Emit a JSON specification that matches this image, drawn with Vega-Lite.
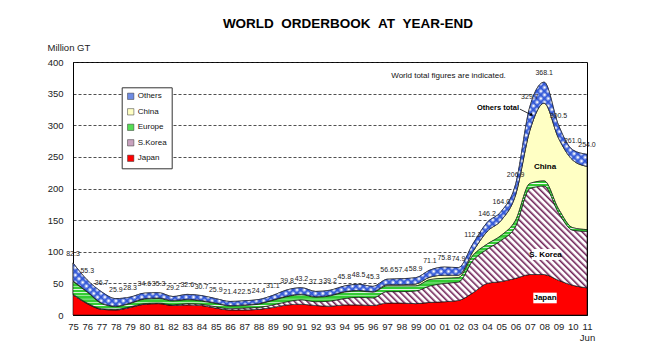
{
  "$schema": "https://vega.github.io/schema/vega-lite/v6.json",
  "width": 514,
  "height": 253,
  "autosize": {"type": "none"},
  "padding": {"left": 73, "top": 62, "right": 64, "bottom": 36},
  "background": "white",
  "title": {"text": "WORLD \u00a0ORDERBOOK \u00a0AT \u00a0YEAR-END", "font": "Liberation Sans", "fontSize": 13.5, "fontWeight": "bold", "color": "#000", "anchor": "middle", "dx": 18, "offset": 12},
  "config": {
    "font": "Liberation Sans",
    "view": {"stroke": "#000", "strokeWidth": 1},
    "axis": {"labelFont": "Liberation Sans", "labelColor": "#222", "domainColor": "#000", "tickColor": "#000"}
  },
  "datasets": {
    "regions": [
      {"region": "Japan", "ord": 1},
      {"region": "S.Korea", "ord": 2},
      {"region": "Europe", "ord": 3},
      {"region": "China", "ord": 4},
      {"region": "Others", "ord": 5}
    ],
    "orderbook": [
      {"year":1975,"region":"Japan","v":32},{"year":1975,"region":"S.Korea","v":1},{"year":1975,"region":"Europe","v":20},{"year":1975,"region":"China","v":1},{"year":1975,"region":"Others","v":28.3},
      {"year":1976,"region":"Japan","v":18},{"year":1976,"region":"S.Korea","v":1},{"year":1976,"region":"Europe","v":17},{"year":1976,"region":"China","v":1},{"year":1976,"region":"Others","v":18.3},
      {"year":1977,"region":"Japan","v":9},{"year":1977,"region":"S.Korea","v":1},{"year":1977,"region":"Europe","v":8},{"year":1977,"region":"China","v":1},{"year":1977,"region":"Others","v":17.7},
      {"year":1978,"region":"Japan","v":8},{"year":1978,"region":"S.Korea","v":1},{"year":1978,"region":"Europe","v":4},{"year":1978,"region":"China","v":1},{"year":1978,"region":"Others","v":11.9},
      {"year":1979,"region":"Japan","v":12},{"year":1979,"region":"S.Korea","v":1},{"year":1979,"region":"Europe","v":5},{"year":1979,"region":"China","v":1},{"year":1979,"region":"Others","v":9.3},
      {"year":1980,"region":"Japan","v":17},{"year":1980,"region":"S.Korea","v":1},{"year":1980,"region":"Europe","v":7},{"year":1980,"region":"China","v":1},{"year":1980,"region":"Others","v":8.6},
      {"year":1981,"region":"Japan","v":18},{"year":1981,"region":"S.Korea","v":1},{"year":1981,"region":"Europe","v":7},{"year":1981,"region":"China","v":1},{"year":1981,"region":"Others","v":8.3},
      {"year":1982,"region":"Japan","v":15},{"year":1982,"region":"S.Korea","v":1},{"year":1982,"region":"Europe","v":6},{"year":1982,"region":"China","v":1},{"year":1982,"region":"Others","v":6.2},
      {"year":1983,"region":"Japan","v":16},{"year":1983,"region":"S.Korea","v":2},{"year":1983,"region":"Europe","v":6},{"year":1983,"region":"China","v":1},{"year":1983,"region":"Others","v":7.6},
      {"year":1984,"region":"Japan","v":15},{"year":1984,"region":"S.Korea","v":2},{"year":1984,"region":"Europe","v":5},{"year":1984,"region":"China","v":1},{"year":1984,"region":"Others","v":7.7},
      {"year":1985,"region":"Japan","v":11},{"year":1985,"region":"S.Korea","v":2},{"year":1985,"region":"Europe","v":5},{"year":1985,"region":"China","v":1},{"year":1985,"region":"Others","v":6.9},
      {"year":1986,"region":"Japan","v":8},{"year":1986,"region":"S.Korea","v":2},{"year":1986,"region":"Europe","v":4},{"year":1986,"region":"China","v":1},{"year":1986,"region":"Others","v":6.4},
      {"year":1987,"region":"Japan","v":8},{"year":1987,"region":"S.Korea","v":3},{"year":1987,"region":"Europe","v":4},{"year":1987,"region":"China","v":1},{"year":1987,"region":"Others","v":6.5},
      {"year":1988,"region":"Japan","v":9},{"year":1988,"region":"S.Korea","v":3},{"year":1988,"region":"Europe","v":5},{"year":1988,"region":"China","v":1},{"year":1988,"region":"Others","v":6.4},
      {"year":1989,"region":"Japan","v":12},{"year":1989,"region":"S.Korea","v":4},{"year":1989,"region":"Europe","v":7},{"year":1989,"region":"China","v":1},{"year":1989,"region":"Others","v":7.1},
      {"year":1990,"region":"Japan","v":16},{"year":1990,"region":"S.Korea","v":5},{"year":1990,"region":"Europe","v":8},{"year":1990,"region":"China","v":1},{"year":1990,"region":"Others","v":9.8},
      {"year":1991,"region":"Japan","v":17},{"year":1991,"region":"S.Korea","v":7},{"year":1991,"region":"Europe","v":8},{"year":1991,"region":"China","v":1},{"year":1991,"region":"Others","v":10.2},
      {"year":1992,"region":"Japan","v":15},{"year":1992,"region":"S.Korea","v":6},{"year":1992,"region":"Europe","v":7},{"year":1992,"region":"China","v":1},{"year":1992,"region":"Others","v":8.3},
      {"year":1993,"region":"Japan","v":14},{"year":1993,"region":"S.Korea","v":8},{"year":1993,"region":"Europe","v":8},{"year":1993,"region":"China","v":1},{"year":1993,"region":"Others","v":8.2},
      {"year":1994,"region":"Japan","v":16},{"year":1994,"region":"S.Korea","v":10},{"year":1994,"region":"Europe","v":10},{"year":1994,"region":"China","v":1},{"year":1994,"region":"Others","v":8.8},
      {"year":1995,"region":"Japan","v":16},{"year":1995,"region":"S.Korea","v":12},{"year":1995,"region":"Europe","v":10},{"year":1995,"region":"China","v":1},{"year":1995,"region":"Others","v":9.5},
      {"year":1996,"region":"Japan","v":15},{"year":1996,"region":"S.Korea","v":12},{"year":1996,"region":"Europe","v":9},{"year":1996,"region":"China","v":1},{"year":1996,"region":"Others","v":8.3},
      {"year":1997,"region":"Japan","v":19},{"year":1997,"region":"S.Korea","v":18},{"year":1997,"region":"Europe","v":9},{"year":1997,"region":"China","v":2},{"year":1997,"region":"Others","v":8.6},
      {"year":1998,"region":"Japan","v":19},{"year":1998,"region":"S.Korea","v":18},{"year":1998,"region":"Europe","v":9},{"year":1998,"region":"China","v":2},{"year":1998,"region":"Others","v":9.4},
      {"year":1999,"region":"Japan","v":18},{"year":1999,"region":"S.Korea","v":20},{"year":1999,"region":"Europe","v":8},{"year":1999,"region":"China","v":3},{"year":1999,"region":"Others","v":9.9},
      {"year":2000,"region":"Japan","v":20},{"year":2000,"region":"S.Korea","v":26},{"year":2000,"region":"Europe","v":10},{"year":2000,"region":"China","v":4},{"year":2000,"region":"Others","v":11.1},
      {"year":2001,"region":"Japan","v":21},{"year":2001,"region":"S.Korea","v":29},{"year":2001,"region":"Europe","v":8},{"year":2001,"region":"China","v":5},{"year":2001,"region":"Others","v":12.8},
      {"year":2002,"region":"Japan","v":23},{"year":2002,"region":"S.Korea","v":29},{"year":2002,"region":"Europe","v":7},{"year":2002,"region":"China","v":4},{"year":2002,"region":"Others","v":11.9},
      {"year":2003,"region":"Japan","v":35},{"year":2003,"region":"S.Korea","v":51},{"year":2003,"region":"Europe","v":8},{"year":2003,"region":"China","v":6},{"year":2003,"region":"Others","v":12.2},
      {"year":2004,"region":"Japan","v":50},{"year":2004,"region":"S.Korea","v":54},{"year":2004,"region":"Europe","v":8},{"year":2004,"region":"China","v":20},{"year":2004,"region":"Others","v":14.2},
      {"year":2005,"region":"Japan","v":53},{"year":2005,"region":"S.Korea","v":65},{"year":2005,"region":"Europe","v":8},{"year":2005,"region":"China","v":24},{"year":2005,"region":"Others","v":14},
      {"year":2006,"region":"Japan","v":58},{"year":2006,"region":"S.Korea","v":82},{"year":2006,"region":"Europe","v":10},{"year":2006,"region":"China","v":40},{"year":2006,"region":"Others","v":16.9},
      {"year":2007,"region":"Japan","v":64},{"year":2007,"region":"S.Korea","v":136},{"year":2007,"region":"Europe","v":8},{"year":2007,"region":"China","v":84},{"year":2007,"region":"Others","v":37.7},
      {"year":2008,"region":"Japan","v":64},{"year":2008,"region":"S.Korea","v":140},{"year":2008,"region":"Europe","v":8},{"year":2008,"region":"China","v":123},{"year":2008,"region":"Others","v":33.1},
      {"year":2009,"region":"Japan","v":55},{"year":2009,"region":"S.Korea","v":107},{"year":2009,"region":"Europe","v":6},{"year":2009,"region":"China","v":112},{"year":2009,"region":"Others","v":20.5},
      {"year":2010,"region":"Japan","v":47},{"year":2010,"region":"S.Korea","v":87},{"year":2010,"region":"Europe","v":4},{"year":2010,"region":"China","v":107},{"year":2010,"region":"Others","v":16},
      {"year":2011,"region":"Japan","v":43},{"year":2011,"region":"S.Korea","v":89},{"year":2011,"region":"Europe","v":3},{"year":2011,"region":"China","v":100},{"year":2011,"region":"Others","v":19}
    ],
    "totals": [
      {"year":1975,"v":82.3},{"year":1976,"v":55.3},{"year":1977,"v":36.7},{"year":1978,"v":25.9},{"year":1979,"v":28.3},
      {"year":1980,"v":34.6},{"year":1981,"v":35.3},{"year":1982,"v":29.2},{"year":1983,"v":32.6},{"year":1984,"v":30.7},
      {"year":1985,"v":25.9},{"year":1986,"v":21.4},{"year":1987,"v":22.5},{"year":1988,"v":24.4},{"year":1989,"v":31.1},
      {"year":1990,"v":39.8},{"year":1991,"v":43.2},{"year":1992,"v":37.3},{"year":1993,"v":39.2},{"year":1994,"v":45.8},
      {"year":1995,"v":48.5},{"year":1996,"v":45.3},{"year":1997,"v":56.6},{"year":1998,"v":57.4},{"year":1999,"v":58.9},
      {"year":2000,"v":71.1},{"year":2001,"v":75.8},{"year":2002,"v":74.9},{"year":2003,"v":112.2},{"year":2004,"v":146.2},
      {"year":2005,"v":164.0},{"year":2006,"v":206.9},{"year":2007,"v":329.7},{"year":2008,"v":368.1},{"year":2009,"v":300.5},
      {"year":2010,"v":261.0},{"year":2011,"v":254.0}
    ]
  },
  "encoding": {
    "x": {"field": "year", "type": "quantitative", "scale": {"domain": [1975, 2011], "nice": false, "zero": false},
      "axis": {"values": [1975,1976,1977,1978,1979,1980,1981,1982,1983,1984,1985,1986,1987,1988,1989,1990,1991,1992,1993,1994,1995,1996,1997,1998,1999,2000,2001,2002,2003,2004,2005,2006,2007,2008,2009,2010,2011],
        "labelExpr": "datum.value == 2011 ? ['11', 'Jun'] : slice(toString(datum.value), 2)",
        "title": null, "grid": false, "ticks": false, "labelFontSize": 9.5, "labelPadding": 6, "labelFlush": false, "labelOverlap": false, "labelLineHeight": 11}},
    "y": {"field": "v", "type": "quantitative", "scale": {"domain": [0, 400], "nice": false},
      "axis": {"values": [0,50,100,150,200,250,300,350,400], "grid": true, "gridDash": [3, 2], "gridColor": "#222", "gridWidth": 0.8, "ticks": false, "labelPadding": 10, "labelFontSize": 9.5, "labelOverlap": false,
        "title": "Million GT", "titleAngle": 0, "titleX": -26, "titleY": -12, "titleAlign": "left", "titleBaseline": "alphabetic", "titleFontWeight": "normal", "titleFontSize": 9.5, "titleColor": "#222", "titleFont": "Liberation Sans"}}
  },
  "layer": [
    {
      "data": {"name": "orderbook"},
      "transform": [{"lookup": "region", "from": {"data": {"name": "regions"}, "key": "region", "fields": ["ord"]}}],
      "mark": {"type": "area", "interpolate": "monotone", "stroke": "#111", "strokeWidth": 0.6, "opacity": 1},
      "encoding": {
        "color": {"field": "region", "type": "nominal",
          "scale": {"domain": ["Others", "China", "Europe", "S.Korea", "Japan"], "range": ["#6F8CE3", "#FFFFC4", "#55DD55", "#C8A2BE", "#FF0000"]},
          "legend": {"orient": "none", "legendX": 48.7, "legendY": 25.3, "title": null, "fillColor": "#fff", "strokeColor": "#333", "padding": 5,
            "symbolType": "square", "symbolSize": 40, "symbolStrokeColor": "#333", "symbolStrokeWidth": 0.5, "labelFontSize": 8, "labelFont": "Liberation Sans", "labelColor": "#111", "rowPadding": 5.5, "labelOffset": 3}},
        "order": {"field": "ord", "type": "quantitative"}
      }
    },
    {
      "data": {"name": "orderbook"},
      "transform": [
        {"lookup": "region", "from": {"data": {"name": "regions"}, "key": "region", "fields": ["ord"]}},
        {"stack": "v", "groupby": ["year"], "sort": [{"field": "ord", "order": "ascending"}], "as": ["k0", "k1"]},
        {"filter": "datum.region === 'S.Korea'"}
      ],
      "mark": {"type": "area", "interpolate": "monotone", "stroke": "#111", "strokeWidth": 0.6,
        "fill": {"gradient": "linear", "x1": 0, "y1": 1, "x2": 1.173, "y2": 0.717, "stops": [
          {"offset":0,"color":"#6E1F55"},{"offset":0.0045,"color":"#fff"},{"offset":0.0075,"color":"#fff"},
          {"offset":0.01,"color":"#6E1F55"},{"offset":0.0145,"color":"#fff"},{"offset":0.0175,"color":"#fff"},
          {"offset":0.02,"color":"#6E1F55"},{"offset":0.0245,"color":"#fff"},{"offset":0.0275,"color":"#fff"},
          {"offset":0.03,"color":"#6E1F55"},{"offset":0.0345,"color":"#fff"},{"offset":0.0375,"color":"#fff"},
          {"offset":0.04,"color":"#6E1F55"},{"offset":0.0445,"color":"#fff"},{"offset":0.0475,"color":"#fff"},
          {"offset":0.05,"color":"#6E1F55"},{"offset":0.0545,"color":"#fff"},{"offset":0.0575,"color":"#fff"},
          {"offset":0.06,"color":"#6E1F55"},{"offset":0.0645,"color":"#fff"},{"offset":0.0675,"color":"#fff"},
          {"offset":0.07,"color":"#6E1F55"},{"offset":0.0745,"color":"#fff"},{"offset":0.0775,"color":"#fff"},
          {"offset":0.08,"color":"#6E1F55"},{"offset":0.0845,"color":"#fff"},{"offset":0.0875,"color":"#fff"},
          {"offset":0.09,"color":"#6E1F55"},{"offset":0.0945,"color":"#fff"},{"offset":0.0975,"color":"#fff"},
          {"offset":0.10,"color":"#6E1F55"},{"offset":0.1045,"color":"#fff"},{"offset":0.1075,"color":"#fff"},
          {"offset":0.11,"color":"#6E1F55"},{"offset":0.1145,"color":"#fff"},{"offset":0.1175,"color":"#fff"},
          {"offset":0.12,"color":"#6E1F55"},{"offset":0.1245,"color":"#fff"},{"offset":0.1275,"color":"#fff"},
          {"offset":0.13,"color":"#6E1F55"},{"offset":0.1345,"color":"#fff"},{"offset":0.1375,"color":"#fff"},
          {"offset":0.14,"color":"#6E1F55"},{"offset":0.1445,"color":"#fff"},{"offset":0.1475,"color":"#fff"},
          {"offset":0.15,"color":"#6E1F55"},{"offset":0.1545,"color":"#fff"},{"offset":0.1575,"color":"#fff"},
          {"offset":0.16,"color":"#6E1F55"},{"offset":0.1645,"color":"#fff"},{"offset":0.1675,"color":"#fff"},
          {"offset":0.17,"color":"#6E1F55"},{"offset":0.1745,"color":"#fff"},{"offset":0.1775,"color":"#fff"},
          {"offset":0.18,"color":"#6E1F55"},{"offset":0.1845,"color":"#fff"},{"offset":0.1875,"color":"#fff"},
          {"offset":0.19,"color":"#6E1F55"},{"offset":0.1945,"color":"#fff"},{"offset":0.1975,"color":"#fff"},
          {"offset":0.20,"color":"#6E1F55"},{"offset":0.2045,"color":"#fff"},{"offset":0.2075,"color":"#fff"},
          {"offset":0.21,"color":"#6E1F55"},{"offset":0.2145,"color":"#fff"},{"offset":0.2175,"color":"#fff"},
          {"offset":0.22,"color":"#6E1F55"},{"offset":0.2245,"color":"#fff"},{"offset":0.2275,"color":"#fff"},
          {"offset":0.23,"color":"#6E1F55"},{"offset":0.2345,"color":"#fff"},{"offset":0.2375,"color":"#fff"},
          {"offset":0.24,"color":"#6E1F55"},{"offset":0.2445,"color":"#fff"},{"offset":0.2475,"color":"#fff"},
          {"offset":0.25,"color":"#6E1F55"},{"offset":0.2545,"color":"#fff"},{"offset":0.2575,"color":"#fff"},
          {"offset":0.26,"color":"#6E1F55"},{"offset":0.2645,"color":"#fff"},{"offset":0.2675,"color":"#fff"},
          {"offset":0.27,"color":"#6E1F55"},{"offset":0.2745,"color":"#fff"},{"offset":0.2775,"color":"#fff"},
          {"offset":0.28,"color":"#6E1F55"},{"offset":0.2845,"color":"#fff"},{"offset":0.2875,"color":"#fff"},
          {"offset":0.29,"color":"#6E1F55"},{"offset":0.2945,"color":"#fff"},{"offset":0.2975,"color":"#fff"},
          {"offset":0.30,"color":"#6E1F55"},{"offset":0.3045,"color":"#fff"},{"offset":0.3075,"color":"#fff"},
          {"offset":0.31,"color":"#6E1F55"},{"offset":0.3145,"color":"#fff"},{"offset":0.3175,"color":"#fff"},
          {"offset":0.32,"color":"#6E1F55"},{"offset":0.3245,"color":"#fff"},{"offset":0.3275,"color":"#fff"},
          {"offset":0.33,"color":"#6E1F55"},{"offset":0.3345,"color":"#fff"},{"offset":0.3375,"color":"#fff"},
          {"offset":0.34,"color":"#6E1F55"},{"offset":0.3445,"color":"#fff"},{"offset":0.3475,"color":"#fff"},
          {"offset":0.35,"color":"#6E1F55"},{"offset":0.3545,"color":"#fff"},{"offset":0.3575,"color":"#fff"},
          {"offset":0.36,"color":"#6E1F55"},{"offset":0.3645,"color":"#fff"},{"offset":0.3675,"color":"#fff"},
          {"offset":0.37,"color":"#6E1F55"},{"offset":0.3745,"color":"#fff"},{"offset":0.3775,"color":"#fff"},
          {"offset":0.38,"color":"#6E1F55"},{"offset":0.3845,"color":"#fff"},{"offset":0.3875,"color":"#fff"},
          {"offset":0.39,"color":"#6E1F55"},{"offset":0.3945,"color":"#fff"},{"offset":0.3975,"color":"#fff"},
          {"offset":0.40,"color":"#6E1F55"},{"offset":0.4045,"color":"#fff"},{"offset":0.4075,"color":"#fff"},
          {"offset":0.41,"color":"#6E1F55"},{"offset":0.4145,"color":"#fff"},{"offset":0.4175,"color":"#fff"},
          {"offset":0.42,"color":"#6E1F55"},{"offset":0.4245,"color":"#fff"},{"offset":0.4275,"color":"#fff"},
          {"offset":0.43,"color":"#6E1F55"},{"offset":0.4345,"color":"#fff"},{"offset":0.4375,"color":"#fff"},
          {"offset":0.44,"color":"#6E1F55"},{"offset":0.4445,"color":"#fff"},{"offset":0.4475,"color":"#fff"},
          {"offset":0.45,"color":"#6E1F55"},{"offset":0.4545,"color":"#fff"},{"offset":0.4575,"color":"#fff"},
          {"offset":0.46,"color":"#6E1F55"},{"offset":0.4645,"color":"#fff"},{"offset":0.4675,"color":"#fff"},
          {"offset":0.47,"color":"#6E1F55"},{"offset":0.4745,"color":"#fff"},{"offset":0.4775,"color":"#fff"},
          {"offset":0.48,"color":"#6E1F55"},{"offset":0.4845,"color":"#fff"},{"offset":0.4875,"color":"#fff"},
          {"offset":0.49,"color":"#6E1F55"},{"offset":0.4945,"color":"#fff"},{"offset":0.4975,"color":"#fff"},
          {"offset":0.50,"color":"#6E1F55"},{"offset":0.5045,"color":"#fff"},{"offset":0.5075,"color":"#fff"},
          {"offset":0.51,"color":"#6E1F55"},{"offset":0.5145,"color":"#fff"},{"offset":0.5175,"color":"#fff"},
          {"offset":0.52,"color":"#6E1F55"},{"offset":0.5245,"color":"#fff"},{"offset":0.5275,"color":"#fff"},
          {"offset":0.53,"color":"#6E1F55"},{"offset":0.5345,"color":"#fff"},{"offset":0.5375,"color":"#fff"},
          {"offset":0.54,"color":"#6E1F55"},{"offset":0.5445,"color":"#fff"},{"offset":0.5475,"color":"#fff"},
          {"offset":0.55,"color":"#6E1F55"},{"offset":0.5545,"color":"#fff"},{"offset":0.5575,"color":"#fff"},
          {"offset":0.56,"color":"#6E1F55"},{"offset":0.5645,"color":"#fff"},{"offset":0.5675,"color":"#fff"},
          {"offset":0.57,"color":"#6E1F55"},{"offset":0.5745,"color":"#fff"},{"offset":0.5775,"color":"#fff"},
          {"offset":0.58,"color":"#6E1F55"},{"offset":0.5845,"color":"#fff"},{"offset":0.5875,"color":"#fff"},
          {"offset":0.59,"color":"#6E1F55"},{"offset":0.5945,"color":"#fff"},{"offset":0.5975,"color":"#fff"},
          {"offset":0.60,"color":"#6E1F55"},{"offset":0.6045,"color":"#fff"},{"offset":0.6075,"color":"#fff"},
          {"offset":0.61,"color":"#6E1F55"},{"offset":0.6145,"color":"#fff"},{"offset":0.6175,"color":"#fff"},
          {"offset":0.62,"color":"#6E1F55"},{"offset":0.6245,"color":"#fff"},{"offset":0.6275,"color":"#fff"},
          {"offset":0.63,"color":"#6E1F55"},{"offset":0.6345,"color":"#fff"},{"offset":0.6375,"color":"#fff"},
          {"offset":0.64,"color":"#6E1F55"},{"offset":0.6445,"color":"#fff"},{"offset":0.6475,"color":"#fff"},
          {"offset":0.65,"color":"#6E1F55"},{"offset":0.6545,"color":"#fff"},{"offset":0.6575,"color":"#fff"},
          {"offset":0.66,"color":"#6E1F55"},{"offset":0.6645,"color":"#fff"},{"offset":0.6675,"color":"#fff"},
          {"offset":0.67,"color":"#6E1F55"},{"offset":0.6745,"color":"#fff"},{"offset":0.6775,"color":"#fff"},
          {"offset":0.68,"color":"#6E1F55"},{"offset":0.6845,"color":"#fff"},{"offset":0.6875,"color":"#fff"},
          {"offset":0.69,"color":"#6E1F55"},{"offset":0.6945,"color":"#fff"},{"offset":0.6975,"color":"#fff"},
          {"offset":0.70,"color":"#6E1F55"},{"offset":0.7045,"color":"#fff"},{"offset":0.7075,"color":"#fff"},
          {"offset":0.71,"color":"#6E1F55"},{"offset":0.7145,"color":"#fff"},{"offset":0.7175,"color":"#fff"},
          {"offset":0.72,"color":"#6E1F55"},{"offset":0.7245,"color":"#fff"},{"offset":0.7275,"color":"#fff"},
          {"offset":0.73,"color":"#6E1F55"},{"offset":0.7345,"color":"#fff"},{"offset":0.7375,"color":"#fff"},
          {"offset":0.74,"color":"#6E1F55"},{"offset":0.7445,"color":"#fff"},{"offset":0.7475,"color":"#fff"},
          {"offset":0.75,"color":"#6E1F55"},{"offset":0.7545,"color":"#fff"},{"offset":0.7575,"color":"#fff"},
          {"offset":0.76,"color":"#6E1F55"},{"offset":0.7645,"color":"#fff"},{"offset":0.7675,"color":"#fff"},
          {"offset":0.77,"color":"#6E1F55"},{"offset":0.7745,"color":"#fff"},{"offset":0.7775,"color":"#fff"},
          {"offset":0.78,"color":"#6E1F55"},{"offset":0.7845,"color":"#fff"},{"offset":0.7875,"color":"#fff"},
          {"offset":0.79,"color":"#6E1F55"},{"offset":0.7945,"color":"#fff"},{"offset":0.7975,"color":"#fff"},
          {"offset":0.80,"color":"#6E1F55"},{"offset":0.8045,"color":"#fff"},{"offset":0.8075,"color":"#fff"},
          {"offset":0.81,"color":"#6E1F55"},{"offset":0.8145,"color":"#fff"},{"offset":0.8175,"color":"#fff"},
          {"offset":0.82,"color":"#6E1F55"},{"offset":0.8245,"color":"#fff"},{"offset":0.8275,"color":"#fff"},
          {"offset":0.83,"color":"#6E1F55"},{"offset":0.8345,"color":"#fff"},{"offset":0.8375,"color":"#fff"},
          {"offset":0.84,"color":"#6E1F55"},{"offset":0.8445,"color":"#fff"},{"offset":0.8475,"color":"#fff"},
          {"offset":0.85,"color":"#6E1F55"},{"offset":0.8545,"color":"#fff"},{"offset":0.8575,"color":"#fff"},
          {"offset":0.86,"color":"#6E1F55"},{"offset":0.8645,"color":"#fff"},{"offset":0.8675,"color":"#fff"},
          {"offset":0.87,"color":"#6E1F55"},{"offset":0.8745,"color":"#fff"},{"offset":0.8775,"color":"#fff"},
          {"offset":0.88,"color":"#6E1F55"},{"offset":0.8845,"color":"#fff"},{"offset":0.8875,"color":"#fff"},
          {"offset":0.89,"color":"#6E1F55"},{"offset":0.8945,"color":"#fff"},{"offset":0.8975,"color":"#fff"},
          {"offset":0.90,"color":"#6E1F55"},{"offset":0.9045,"color":"#fff"},{"offset":0.9075,"color":"#fff"},
          {"offset":0.91,"color":"#6E1F55"},{"offset":0.9145,"color":"#fff"},{"offset":0.9175,"color":"#fff"},
          {"offset":0.92,"color":"#6E1F55"},{"offset":0.9245,"color":"#fff"},{"offset":0.9275,"color":"#fff"},
          {"offset":0.93,"color":"#6E1F55"},{"offset":0.9345,"color":"#fff"},{"offset":0.9375,"color":"#fff"},
          {"offset":0.94,"color":"#6E1F55"},{"offset":0.9445,"color":"#fff"},{"offset":0.9475,"color":"#fff"},
          {"offset":0.95,"color":"#6E1F55"},{"offset":0.9545,"color":"#fff"},{"offset":0.9575,"color":"#fff"},
          {"offset":0.96,"color":"#6E1F55"},{"offset":0.9645,"color":"#fff"},{"offset":0.9675,"color":"#fff"},
          {"offset":0.97,"color":"#6E1F55"},{"offset":0.9745,"color":"#fff"},{"offset":0.9775,"color":"#fff"},
          {"offset":0.98,"color":"#6E1F55"},{"offset":0.9845,"color":"#fff"},{"offset":0.9875,"color":"#fff"},
          {"offset":0.99,"color":"#6E1F55"},{"offset":0.9945,"color":"#fff"},{"offset":0.9975,"color":"#fff"},
          {"offset":1,"color":"#6E1F55"}
        ]}},
      "encoding": {
        "y": {"field": "k1", "type": "quantitative", "scale": {"domain": [0, 400], "nice": false},
          "axis": {"values": [0,50,100,150,200,250,300,350,400], "grid": true, "gridDash": [3, 2], "gridColor": "#222", "gridWidth": 0.8, "ticks": false, "labelPadding": 10, "labelFontSize": 9.5, "labelOverlap": false,
            "title": "Million GT", "titleAngle": 0, "titleX": -26, "titleY": -12, "titleAlign": "left", "titleBaseline": "alphabetic", "titleFontWeight": "normal", "titleFontSize": 9.5, "titleColor": "#222", "titleFont": "Liberation Sans"}},
        "y2": {"field": "k0"}
      }
    },
    {
      "data": {"name": "orderbook"},
      "transform": [
        {"lookup": "region", "from": {"data": {"name": "regions"}, "key": "region", "fields": ["ord"]}},
        {"stack": "v", "groupby": ["year"], "sort": [{"field": "ord", "order": "ascending"}], "as": ["k0", "k1"]},
        {"filter": "datum.region === 'Europe'"}
      ],
      "mark": {"type": "area", "interpolate": "monotone", "stroke": "#111", "strokeWidth": 0.6,
        "fill": {"gradient": "linear", "x1": 0, "y1": 0, "x2": 0, "y2": 1, "stops": [
          {"offset":0,"color":"#33CC33"},{"offset":0.015,"color":"#33CC33"},{"offset":0.02,"color":"#fff"},
          {"offset":0.025,"color":"#33CC33"},{"offset":0.04,"color":"#33CC33"},{"offset":0.045,"color":"#fff"},
          {"offset":0.05,"color":"#33CC33"},{"offset":0.065,"color":"#33CC33"},{"offset":0.07,"color":"#fff"},
          {"offset":0.075,"color":"#33CC33"},{"offset":0.09,"color":"#33CC33"},{"offset":0.095,"color":"#fff"},
          {"offset":0.1,"color":"#33CC33"},{"offset":0.115,"color":"#33CC33"},{"offset":0.12,"color":"#fff"},
          {"offset":0.125,"color":"#33CC33"},{"offset":0.14,"color":"#33CC33"},{"offset":0.145,"color":"#fff"},
          {"offset":0.15,"color":"#33CC33"},{"offset":0.165,"color":"#33CC33"},{"offset":0.17,"color":"#fff"},
          {"offset":0.175,"color":"#33CC33"},{"offset":0.19,"color":"#33CC33"},{"offset":0.195,"color":"#fff"},
          {"offset":0.2,"color":"#33CC33"},{"offset":0.215,"color":"#33CC33"},{"offset":0.22,"color":"#fff"},
          {"offset":0.225,"color":"#33CC33"},{"offset":0.24,"color":"#33CC33"},{"offset":0.245,"color":"#fff"},
          {"offset":0.25,"color":"#33CC33"},{"offset":0.265,"color":"#33CC33"},{"offset":0.27,"color":"#fff"},
          {"offset":0.275,"color":"#33CC33"},{"offset":0.29,"color":"#33CC33"},{"offset":0.295,"color":"#fff"},
          {"offset":0.3,"color":"#33CC33"},{"offset":0.315,"color":"#33CC33"},{"offset":0.32,"color":"#fff"},
          {"offset":0.325,"color":"#33CC33"},{"offset":0.34,"color":"#33CC33"},{"offset":0.345,"color":"#fff"},
          {"offset":0.35,"color":"#33CC33"},{"offset":0.365,"color":"#33CC33"},{"offset":0.37,"color":"#fff"},
          {"offset":0.375,"color":"#33CC33"},{"offset":0.39,"color":"#33CC33"},{"offset":0.395,"color":"#fff"},
          {"offset":0.4,"color":"#33CC33"},{"offset":0.415,"color":"#33CC33"},{"offset":0.42,"color":"#fff"},
          {"offset":0.425,"color":"#33CC33"},{"offset":0.44,"color":"#33CC33"},{"offset":0.445,"color":"#fff"},
          {"offset":0.45,"color":"#33CC33"},{"offset":0.465,"color":"#33CC33"},{"offset":0.47,"color":"#fff"},
          {"offset":0.475,"color":"#33CC33"},{"offset":0.49,"color":"#33CC33"},{"offset":0.495,"color":"#fff"},
          {"offset":0.5,"color":"#33CC33"},{"offset":0.515,"color":"#33CC33"},{"offset":0.52,"color":"#fff"},
          {"offset":0.525,"color":"#33CC33"},{"offset":0.54,"color":"#33CC33"},{"offset":0.545,"color":"#fff"},
          {"offset":0.55,"color":"#33CC33"},{"offset":0.565,"color":"#33CC33"},{"offset":0.57,"color":"#fff"},
          {"offset":0.575,"color":"#33CC33"},{"offset":0.59,"color":"#33CC33"},{"offset":0.595,"color":"#fff"},
          {"offset":0.6,"color":"#33CC33"},{"offset":0.615,"color":"#33CC33"},{"offset":0.62,"color":"#fff"},
          {"offset":0.625,"color":"#33CC33"},{"offset":0.64,"color":"#33CC33"},{"offset":0.645,"color":"#fff"},
          {"offset":0.65,"color":"#33CC33"},{"offset":0.665,"color":"#33CC33"},{"offset":0.67,"color":"#fff"},
          {"offset":0.675,"color":"#33CC33"},{"offset":0.69,"color":"#33CC33"},{"offset":0.695,"color":"#fff"},
          {"offset":0.7,"color":"#33CC33"},{"offset":0.715,"color":"#33CC33"},{"offset":0.72,"color":"#fff"},
          {"offset":0.725,"color":"#33CC33"},{"offset":0.74,"color":"#33CC33"},{"offset":0.745,"color":"#fff"},
          {"offset":0.75,"color":"#33CC33"},{"offset":0.765,"color":"#33CC33"},{"offset":0.77,"color":"#fff"},
          {"offset":0.775,"color":"#33CC33"},{"offset":0.79,"color":"#33CC33"},{"offset":0.795,"color":"#fff"},
          {"offset":0.8,"color":"#33CC33"},{"offset":0.815,"color":"#33CC33"},{"offset":0.82,"color":"#fff"},
          {"offset":0.825,"color":"#33CC33"},{"offset":0.84,"color":"#33CC33"},{"offset":0.845,"color":"#fff"},
          {"offset":0.85,"color":"#33CC33"},{"offset":0.865,"color":"#33CC33"},{"offset":0.87,"color":"#fff"},
          {"offset":0.875,"color":"#33CC33"},{"offset":0.89,"color":"#33CC33"},{"offset":0.895,"color":"#fff"},
          {"offset":0.9,"color":"#33CC33"},{"offset":0.915,"color":"#33CC33"},{"offset":0.92,"color":"#fff"},
          {"offset":0.925,"color":"#33CC33"},{"offset":0.94,"color":"#33CC33"},{"offset":0.945,"color":"#fff"},
          {"offset":0.95,"color":"#33CC33"},{"offset":0.965,"color":"#33CC33"},{"offset":0.97,"color":"#fff"},
          {"offset":0.975,"color":"#33CC33"},{"offset":0.99,"color":"#33CC33"},{"offset":0.995,"color":"#fff"},
          {"offset":1,"color":"#33CC33"}
        ]}},
      "encoding": {
        "y": {"field": "k1", "type": "quantitative", "scale": {"domain": [0, 400], "nice": false},
          "axis": {"values": [0,50,100,150,200,250,300,350,400], "grid": true, "gridDash": [3, 2], "gridColor": "#222", "gridWidth": 0.8, "ticks": false, "labelPadding": 10, "labelFontSize": 9.5, "labelOverlap": false,
            "title": "Million GT", "titleAngle": 0, "titleX": -26, "titleY": -12, "titleAlign": "left", "titleBaseline": "alphabetic", "titleFontWeight": "normal", "titleFontSize": 9.5, "titleColor": "#222", "titleFont": "Liberation Sans"}},
        "y2": {"field": "k0"}
      }
    },
    {
      "data": {"name": "orderbook"},
      "transform": [
        {"lookup": "region", "from": {"data": {"name": "regions"}, "key": "region", "fields": ["ord"]}},
        {"stack": "v", "groupby": ["year"], "sort": [{"field": "ord", "order": "ascending"}], "as": ["k0", "k1"]},
        {"filter": "datum.region === 'Others'"}
      ],
      "mark": {"type": "area", "interpolate": "monotone",
        "fill": {"gradient": "linear", "x1": 0, "y1": 1, "x2": 1.2065, "y2": 0.4719, "stops": [
          {"offset":0,"color":"#2E55D6"},{"offset":0.005,"color":"#fff"},{"offset":0.006,"color":"#fff"},
          {"offset":0.01,"color":"#2E55D6"},{"offset":0.015,"color":"#fff"},{"offset":0.016,"color":"#fff"},
          {"offset":0.02,"color":"#2E55D6"},{"offset":0.025,"color":"#fff"},{"offset":0.026,"color":"#fff"},
          {"offset":0.03,"color":"#2E55D6"},{"offset":0.035,"color":"#fff"},{"offset":0.036,"color":"#fff"},
          {"offset":0.04,"color":"#2E55D6"},{"offset":0.045,"color":"#fff"},{"offset":0.046,"color":"#fff"},
          {"offset":0.05,"color":"#2E55D6"},{"offset":0.055,"color":"#fff"},{"offset":0.056,"color":"#fff"},
          {"offset":0.06,"color":"#2E55D6"},{"offset":0.065,"color":"#fff"},{"offset":0.066,"color":"#fff"},
          {"offset":0.07,"color":"#2E55D6"},{"offset":0.075,"color":"#fff"},{"offset":0.076,"color":"#fff"},
          {"offset":0.08,"color":"#2E55D6"},{"offset":0.085,"color":"#fff"},{"offset":0.086,"color":"#fff"},
          {"offset":0.09,"color":"#2E55D6"},{"offset":0.095,"color":"#fff"},{"offset":0.096,"color":"#fff"},
          {"offset":0.10,"color":"#2E55D6"},{"offset":0.105,"color":"#fff"},{"offset":0.106,"color":"#fff"},
          {"offset":0.11,"color":"#2E55D6"},{"offset":0.115,"color":"#fff"},{"offset":0.116,"color":"#fff"},
          {"offset":0.12,"color":"#2E55D6"},{"offset":0.125,"color":"#fff"},{"offset":0.126,"color":"#fff"},
          {"offset":0.13,"color":"#2E55D6"},{"offset":0.135,"color":"#fff"},{"offset":0.136,"color":"#fff"},
          {"offset":0.14,"color":"#2E55D6"},{"offset":0.145,"color":"#fff"},{"offset":0.146,"color":"#fff"},
          {"offset":0.15,"color":"#2E55D6"},{"offset":0.155,"color":"#fff"},{"offset":0.156,"color":"#fff"},
          {"offset":0.16,"color":"#2E55D6"},{"offset":0.165,"color":"#fff"},{"offset":0.166,"color":"#fff"},
          {"offset":0.17,"color":"#2E55D6"},{"offset":0.175,"color":"#fff"},{"offset":0.176,"color":"#fff"},
          {"offset":0.18,"color":"#2E55D6"},{"offset":0.185,"color":"#fff"},{"offset":0.186,"color":"#fff"},
          {"offset":0.19,"color":"#2E55D6"},{"offset":0.195,"color":"#fff"},{"offset":0.196,"color":"#fff"},
          {"offset":0.20,"color":"#2E55D6"},{"offset":0.205,"color":"#fff"},{"offset":0.206,"color":"#fff"},
          {"offset":0.21,"color":"#2E55D6"},{"offset":0.215,"color":"#fff"},{"offset":0.216,"color":"#fff"},
          {"offset":0.22,"color":"#2E55D6"},{"offset":0.225,"color":"#fff"},{"offset":0.226,"color":"#fff"},
          {"offset":0.23,"color":"#2E55D6"},{"offset":0.235,"color":"#fff"},{"offset":0.236,"color":"#fff"},
          {"offset":0.24,"color":"#2E55D6"},{"offset":0.245,"color":"#fff"},{"offset":0.246,"color":"#fff"},
          {"offset":0.25,"color":"#2E55D6"},{"offset":0.255,"color":"#fff"},{"offset":0.256,"color":"#fff"},
          {"offset":0.26,"color":"#2E55D6"},{"offset":0.265,"color":"#fff"},{"offset":0.266,"color":"#fff"},
          {"offset":0.27,"color":"#2E55D6"},{"offset":0.275,"color":"#fff"},{"offset":0.276,"color":"#fff"},
          {"offset":0.28,"color":"#2E55D6"},{"offset":0.285,"color":"#fff"},{"offset":0.286,"color":"#fff"},
          {"offset":0.29,"color":"#2E55D6"},{"offset":0.295,"color":"#fff"},{"offset":0.296,"color":"#fff"},
          {"offset":0.30,"color":"#2E55D6"},{"offset":0.305,"color":"#fff"},{"offset":0.306,"color":"#fff"},
          {"offset":0.31,"color":"#2E55D6"},{"offset":0.315,"color":"#fff"},{"offset":0.316,"color":"#fff"},
          {"offset":0.32,"color":"#2E55D6"},{"offset":0.325,"color":"#fff"},{"offset":0.326,"color":"#fff"},
          {"offset":0.33,"color":"#2E55D6"},{"offset":0.335,"color":"#fff"},{"offset":0.336,"color":"#fff"},
          {"offset":0.34,"color":"#2E55D6"},{"offset":0.345,"color":"#fff"},{"offset":0.346,"color":"#fff"},
          {"offset":0.35,"color":"#2E55D6"},{"offset":0.355,"color":"#fff"},{"offset":0.356,"color":"#fff"},
          {"offset":0.36,"color":"#2E55D6"},{"offset":0.365,"color":"#fff"},{"offset":0.366,"color":"#fff"},
          {"offset":0.37,"color":"#2E55D6"},{"offset":0.375,"color":"#fff"},{"offset":0.376,"color":"#fff"},
          {"offset":0.38,"color":"#2E55D6"},{"offset":0.385,"color":"#fff"},{"offset":0.386,"color":"#fff"},
          {"offset":0.39,"color":"#2E55D6"},{"offset":0.395,"color":"#fff"},{"offset":0.396,"color":"#fff"},
          {"offset":0.40,"color":"#2E55D6"},{"offset":0.405,"color":"#fff"},{"offset":0.406,"color":"#fff"},
          {"offset":0.41,"color":"#2E55D6"},{"offset":0.415,"color":"#fff"},{"offset":0.416,"color":"#fff"},
          {"offset":0.42,"color":"#2E55D6"},{"offset":0.425,"color":"#fff"},{"offset":0.426,"color":"#fff"},
          {"offset":0.43,"color":"#2E55D6"},{"offset":0.435,"color":"#fff"},{"offset":0.436,"color":"#fff"},
          {"offset":0.44,"color":"#2E55D6"},{"offset":0.445,"color":"#fff"},{"offset":0.446,"color":"#fff"},
          {"offset":0.45,"color":"#2E55D6"},{"offset":0.455,"color":"#fff"},{"offset":0.456,"color":"#fff"},
          {"offset":0.46,"color":"#2E55D6"},{"offset":0.465,"color":"#fff"},{"offset":0.466,"color":"#fff"},
          {"offset":0.47,"color":"#2E55D6"},{"offset":0.475,"color":"#fff"},{"offset":0.476,"color":"#fff"},
          {"offset":0.48,"color":"#2E55D6"},{"offset":0.485,"color":"#fff"},{"offset":0.486,"color":"#fff"},
          {"offset":0.49,"color":"#2E55D6"},{"offset":0.495,"color":"#fff"},{"offset":0.496,"color":"#fff"},
          {"offset":0.50,"color":"#2E55D6"},{"offset":0.505,"color":"#fff"},{"offset":0.506,"color":"#fff"},
          {"offset":0.51,"color":"#2E55D6"},{"offset":0.515,"color":"#fff"},{"offset":0.516,"color":"#fff"},
          {"offset":0.52,"color":"#2E55D6"},{"offset":0.525,"color":"#fff"},{"offset":0.526,"color":"#fff"},
          {"offset":0.53,"color":"#2E55D6"},{"offset":0.535,"color":"#fff"},{"offset":0.536,"color":"#fff"},
          {"offset":0.54,"color":"#2E55D6"},{"offset":0.545,"color":"#fff"},{"offset":0.546,"color":"#fff"},
          {"offset":0.55,"color":"#2E55D6"},{"offset":0.555,"color":"#fff"},{"offset":0.556,"color":"#fff"},
          {"offset":0.56,"color":"#2E55D6"},{"offset":0.565,"color":"#fff"},{"offset":0.566,"color":"#fff"},
          {"offset":0.57,"color":"#2E55D6"},{"offset":0.575,"color":"#fff"},{"offset":0.576,"color":"#fff"},
          {"offset":0.58,"color":"#2E55D6"},{"offset":0.585,"color":"#fff"},{"offset":0.586,"color":"#fff"},
          {"offset":0.59,"color":"#2E55D6"},{"offset":0.595,"color":"#fff"},{"offset":0.596,"color":"#fff"},
          {"offset":0.60,"color":"#2E55D6"},{"offset":0.605,"color":"#fff"},{"offset":0.606,"color":"#fff"},
          {"offset":0.61,"color":"#2E55D6"},{"offset":0.615,"color":"#fff"},{"offset":0.616,"color":"#fff"},
          {"offset":0.62,"color":"#2E55D6"},{"offset":0.625,"color":"#fff"},{"offset":0.626,"color":"#fff"},
          {"offset":0.63,"color":"#2E55D6"},{"offset":0.635,"color":"#fff"},{"offset":0.636,"color":"#fff"},
          {"offset":0.64,"color":"#2E55D6"},{"offset":0.645,"color":"#fff"},{"offset":0.646,"color":"#fff"},
          {"offset":0.65,"color":"#2E55D6"},{"offset":0.655,"color":"#fff"},{"offset":0.656,"color":"#fff"},
          {"offset":0.66,"color":"#2E55D6"},{"offset":0.665,"color":"#fff"},{"offset":0.666,"color":"#fff"},
          {"offset":0.67,"color":"#2E55D6"},{"offset":0.675,"color":"#fff"},{"offset":0.676,"color":"#fff"},
          {"offset":0.68,"color":"#2E55D6"},{"offset":0.685,"color":"#fff"},{"offset":0.686,"color":"#fff"},
          {"offset":0.69,"color":"#2E55D6"},{"offset":0.695,"color":"#fff"},{"offset":0.696,"color":"#fff"},
          {"offset":0.70,"color":"#2E55D6"},{"offset":0.705,"color":"#fff"},{"offset":0.706,"color":"#fff"},
          {"offset":0.71,"color":"#2E55D6"},{"offset":0.715,"color":"#fff"},{"offset":0.716,"color":"#fff"},
          {"offset":0.72,"color":"#2E55D6"},{"offset":0.725,"color":"#fff"},{"offset":0.726,"color":"#fff"},
          {"offset":0.73,"color":"#2E55D6"},{"offset":0.735,"color":"#fff"},{"offset":0.736,"color":"#fff"},
          {"offset":0.74,"color":"#2E55D6"},{"offset":0.745,"color":"#fff"},{"offset":0.746,"color":"#fff"},
          {"offset":0.75,"color":"#2E55D6"},{"offset":0.755,"color":"#fff"},{"offset":0.756,"color":"#fff"},
          {"offset":0.76,"color":"#2E55D6"},{"offset":0.765,"color":"#fff"},{"offset":0.766,"color":"#fff"},
          {"offset":0.77,"color":"#2E55D6"},{"offset":0.775,"color":"#fff"},{"offset":0.776,"color":"#fff"},
          {"offset":0.78,"color":"#2E55D6"},{"offset":0.785,"color":"#fff"},{"offset":0.786,"color":"#fff"},
          {"offset":0.79,"color":"#2E55D6"},{"offset":0.795,"color":"#fff"},{"offset":0.796,"color":"#fff"},
          {"offset":0.80,"color":"#2E55D6"},{"offset":0.805,"color":"#fff"},{"offset":0.806,"color":"#fff"},
          {"offset":0.81,"color":"#2E55D6"},{"offset":0.815,"color":"#fff"},{"offset":0.816,"color":"#fff"},
          {"offset":0.82,"color":"#2E55D6"},{"offset":0.825,"color":"#fff"},{"offset":0.826,"color":"#fff"},
          {"offset":0.83,"color":"#2E55D6"},{"offset":0.835,"color":"#fff"},{"offset":0.836,"color":"#fff"},
          {"offset":0.84,"color":"#2E55D6"},{"offset":0.845,"color":"#fff"},{"offset":0.846,"color":"#fff"},
          {"offset":0.85,"color":"#2E55D6"},{"offset":0.855,"color":"#fff"},{"offset":0.856,"color":"#fff"},
          {"offset":0.86,"color":"#2E55D6"},{"offset":0.865,"color":"#fff"},{"offset":0.866,"color":"#fff"},
          {"offset":0.87,"color":"#2E55D6"},{"offset":0.875,"color":"#fff"},{"offset":0.876,"color":"#fff"},
          {"offset":0.88,"color":"#2E55D6"},{"offset":0.885,"color":"#fff"},{"offset":0.886,"color":"#fff"},
          {"offset":0.89,"color":"#2E55D6"},{"offset":0.895,"color":"#fff"},{"offset":0.896,"color":"#fff"},
          {"offset":0.90,"color":"#2E55D6"},{"offset":0.905,"color":"#fff"},{"offset":0.906,"color":"#fff"},
          {"offset":0.91,"color":"#2E55D6"},{"offset":0.915,"color":"#fff"},{"offset":0.916,"color":"#fff"},
          {"offset":0.92,"color":"#2E55D6"},{"offset":0.925,"color":"#fff"},{"offset":0.926,"color":"#fff"},
          {"offset":0.93,"color":"#2E55D6"},{"offset":0.935,"color":"#fff"},{"offset":0.936,"color":"#fff"},
          {"offset":0.94,"color":"#2E55D6"},{"offset":0.945,"color":"#fff"},{"offset":0.946,"color":"#fff"},
          {"offset":0.95,"color":"#2E55D6"},{"offset":0.955,"color":"#fff"},{"offset":0.956,"color":"#fff"},
          {"offset":0.96,"color":"#2E55D6"},{"offset":0.965,"color":"#fff"},{"offset":0.966,"color":"#fff"},
          {"offset":0.97,"color":"#2E55D6"},{"offset":0.975,"color":"#fff"},{"offset":0.976,"color":"#fff"},
          {"offset":0.98,"color":"#2E55D6"},{"offset":0.985,"color":"#fff"},{"offset":0.986,"color":"#fff"},
          {"offset":0.99,"color":"#2E55D6"},{"offset":0.995,"color":"#fff"},{"offset":0.996,"color":"#fff"},
          {"offset":1,"color":"#2E55D6"}
        ]}},
      "encoding": {
        "y": {"field": "k1", "type": "quantitative", "scale": {"domain": [0, 400], "nice": false},
          "axis": {"values": [0,50,100,150,200,250,300,350,400], "grid": true, "gridDash": [3, 2], "gridColor": "#222", "gridWidth": 0.8, "ticks": false, "labelPadding": 10, "labelFontSize": 9.5, "labelOverlap": false,
            "title": "Million GT", "titleAngle": 0, "titleX": -26, "titleY": -12, "titleAlign": "left", "titleBaseline": "alphabetic", "titleFontWeight": "normal", "titleFontSize": 9.5, "titleColor": "#222", "titleFont": "Liberation Sans"}},
        "y2": {"field": "k0"}
      }
    },
    {
      "data": {"name": "orderbook"},
      "transform": [
        {"lookup": "region", "from": {"data": {"name": "regions"}, "key": "region", "fields": ["ord"]}},
        {"stack": "v", "groupby": ["year"], "sort": [{"field": "ord", "order": "ascending"}], "as": ["k0", "k1"]},
        {"filter": "datum.region === 'Others'"}
      ],
      "mark": {"type": "area", "interpolate": "monotone", "stroke": "#111", "strokeWidth": 0.6,
        "fill": {"gradient": "linear", "x1": 0, "y1": 0, "x2": 1.2065, "y2": 0.5281, "stops": [
          {"offset":0,"color":"#2E55D6"},{"offset":0.005,"color":"rgba(46,85,214,0)"},{"offset":0.006,"color":"rgba(46,85,214,0)"},
          {"offset":0.01,"color":"#2E55D6"},{"offset":0.015,"color":"rgba(46,85,214,0)"},{"offset":0.016,"color":"rgba(46,85,214,0)"},
          {"offset":0.02,"color":"#2E55D6"},{"offset":0.025,"color":"rgba(46,85,214,0)"},{"offset":0.026,"color":"rgba(46,85,214,0)"},
          {"offset":0.03,"color":"#2E55D6"},{"offset":0.035,"color":"rgba(46,85,214,0)"},{"offset":0.036,"color":"rgba(46,85,214,0)"},
          {"offset":0.04,"color":"#2E55D6"},{"offset":0.045,"color":"rgba(46,85,214,0)"},{"offset":0.046,"color":"rgba(46,85,214,0)"},
          {"offset":0.05,"color":"#2E55D6"},{"offset":0.055,"color":"rgba(46,85,214,0)"},{"offset":0.056,"color":"rgba(46,85,214,0)"},
          {"offset":0.06,"color":"#2E55D6"},{"offset":0.065,"color":"rgba(46,85,214,0)"},{"offset":0.066,"color":"rgba(46,85,214,0)"},
          {"offset":0.07,"color":"#2E55D6"},{"offset":0.075,"color":"rgba(46,85,214,0)"},{"offset":0.076,"color":"rgba(46,85,214,0)"},
          {"offset":0.08,"color":"#2E55D6"},{"offset":0.085,"color":"rgba(46,85,214,0)"},{"offset":0.086,"color":"rgba(46,85,214,0)"},
          {"offset":0.09,"color":"#2E55D6"},{"offset":0.095,"color":"rgba(46,85,214,0)"},{"offset":0.096,"color":"rgba(46,85,214,0)"},
          {"offset":0.10,"color":"#2E55D6"},{"offset":0.105,"color":"rgba(46,85,214,0)"},{"offset":0.106,"color":"rgba(46,85,214,0)"},
          {"offset":0.11,"color":"#2E55D6"},{"offset":0.115,"color":"rgba(46,85,214,0)"},{"offset":0.116,"color":"rgba(46,85,214,0)"},
          {"offset":0.12,"color":"#2E55D6"},{"offset":0.125,"color":"rgba(46,85,214,0)"},{"offset":0.126,"color":"rgba(46,85,214,0)"},
          {"offset":0.13,"color":"#2E55D6"},{"offset":0.135,"color":"rgba(46,85,214,0)"},{"offset":0.136,"color":"rgba(46,85,214,0)"},
          {"offset":0.14,"color":"#2E55D6"},{"offset":0.145,"color":"rgba(46,85,214,0)"},{"offset":0.146,"color":"rgba(46,85,214,0)"},
          {"offset":0.15,"color":"#2E55D6"},{"offset":0.155,"color":"rgba(46,85,214,0)"},{"offset":0.156,"color":"rgba(46,85,214,0)"},
          {"offset":0.16,"color":"#2E55D6"},{"offset":0.165,"color":"rgba(46,85,214,0)"},{"offset":0.166,"color":"rgba(46,85,214,0)"},
          {"offset":0.17,"color":"#2E55D6"},{"offset":0.175,"color":"rgba(46,85,214,0)"},{"offset":0.176,"color":"rgba(46,85,214,0)"},
          {"offset":0.18,"color":"#2E55D6"},{"offset":0.185,"color":"rgba(46,85,214,0)"},{"offset":0.186,"color":"rgba(46,85,214,0)"},
          {"offset":0.19,"color":"#2E55D6"},{"offset":0.195,"color":"rgba(46,85,214,0)"},{"offset":0.196,"color":"rgba(46,85,214,0)"},
          {"offset":0.20,"color":"#2E55D6"},{"offset":0.205,"color":"rgba(46,85,214,0)"},{"offset":0.206,"color":"rgba(46,85,214,0)"},
          {"offset":0.21,"color":"#2E55D6"},{"offset":0.215,"color":"rgba(46,85,214,0)"},{"offset":0.216,"color":"rgba(46,85,214,0)"},
          {"offset":0.22,"color":"#2E55D6"},{"offset":0.225,"color":"rgba(46,85,214,0)"},{"offset":0.226,"color":"rgba(46,85,214,0)"},
          {"offset":0.23,"color":"#2E55D6"},{"offset":0.235,"color":"rgba(46,85,214,0)"},{"offset":0.236,"color":"rgba(46,85,214,0)"},
          {"offset":0.24,"color":"#2E55D6"},{"offset":0.245,"color":"rgba(46,85,214,0)"},{"offset":0.246,"color":"rgba(46,85,214,0)"},
          {"offset":0.25,"color":"#2E55D6"},{"offset":0.255,"color":"rgba(46,85,214,0)"},{"offset":0.256,"color":"rgba(46,85,214,0)"},
          {"offset":0.26,"color":"#2E55D6"},{"offset":0.265,"color":"rgba(46,85,214,0)"},{"offset":0.266,"color":"rgba(46,85,214,0)"},
          {"offset":0.27,"color":"#2E55D6"},{"offset":0.275,"color":"rgba(46,85,214,0)"},{"offset":0.276,"color":"rgba(46,85,214,0)"},
          {"offset":0.28,"color":"#2E55D6"},{"offset":0.285,"color":"rgba(46,85,214,0)"},{"offset":0.286,"color":"rgba(46,85,214,0)"},
          {"offset":0.29,"color":"#2E55D6"},{"offset":0.295,"color":"rgba(46,85,214,0)"},{"offset":0.296,"color":"rgba(46,85,214,0)"},
          {"offset":0.30,"color":"#2E55D6"},{"offset":0.305,"color":"rgba(46,85,214,0)"},{"offset":0.306,"color":"rgba(46,85,214,0)"},
          {"offset":0.31,"color":"#2E55D6"},{"offset":0.315,"color":"rgba(46,85,214,0)"},{"offset":0.316,"color":"rgba(46,85,214,0)"},
          {"offset":0.32,"color":"#2E55D6"},{"offset":0.325,"color":"rgba(46,85,214,0)"},{"offset":0.326,"color":"rgba(46,85,214,0)"},
          {"offset":0.33,"color":"#2E55D6"},{"offset":0.335,"color":"rgba(46,85,214,0)"},{"offset":0.336,"color":"rgba(46,85,214,0)"},
          {"offset":0.34,"color":"#2E55D6"},{"offset":0.345,"color":"rgba(46,85,214,0)"},{"offset":0.346,"color":"rgba(46,85,214,0)"},
          {"offset":0.35,"color":"#2E55D6"},{"offset":0.355,"color":"rgba(46,85,214,0)"},{"offset":0.356,"color":"rgba(46,85,214,0)"},
          {"offset":0.36,"color":"#2E55D6"},{"offset":0.365,"color":"rgba(46,85,214,0)"},{"offset":0.366,"color":"rgba(46,85,214,0)"},
          {"offset":0.37,"color":"#2E55D6"},{"offset":0.375,"color":"rgba(46,85,214,0)"},{"offset":0.376,"color":"rgba(46,85,214,0)"},
          {"offset":0.38,"color":"#2E55D6"},{"offset":0.385,"color":"rgba(46,85,214,0)"},{"offset":0.386,"color":"rgba(46,85,214,0)"},
          {"offset":0.39,"color":"#2E55D6"},{"offset":0.395,"color":"rgba(46,85,214,0)"},{"offset":0.396,"color":"rgba(46,85,214,0)"},
          {"offset":0.40,"color":"#2E55D6"},{"offset":0.405,"color":"rgba(46,85,214,0)"},{"offset":0.406,"color":"rgba(46,85,214,0)"},
          {"offset":0.41,"color":"#2E55D6"},{"offset":0.415,"color":"rgba(46,85,214,0)"},{"offset":0.416,"color":"rgba(46,85,214,0)"},
          {"offset":0.42,"color":"#2E55D6"},{"offset":0.425,"color":"rgba(46,85,214,0)"},{"offset":0.426,"color":"rgba(46,85,214,0)"},
          {"offset":0.43,"color":"#2E55D6"},{"offset":0.435,"color":"rgba(46,85,214,0)"},{"offset":0.436,"color":"rgba(46,85,214,0)"},
          {"offset":0.44,"color":"#2E55D6"},{"offset":0.445,"color":"rgba(46,85,214,0)"},{"offset":0.446,"color":"rgba(46,85,214,0)"},
          {"offset":0.45,"color":"#2E55D6"},{"offset":0.455,"color":"rgba(46,85,214,0)"},{"offset":0.456,"color":"rgba(46,85,214,0)"},
          {"offset":0.46,"color":"#2E55D6"},{"offset":0.465,"color":"rgba(46,85,214,0)"},{"offset":0.466,"color":"rgba(46,85,214,0)"},
          {"offset":0.47,"color":"#2E55D6"},{"offset":0.475,"color":"rgba(46,85,214,0)"},{"offset":0.476,"color":"rgba(46,85,214,0)"},
          {"offset":0.48,"color":"#2E55D6"},{"offset":0.485,"color":"rgba(46,85,214,0)"},{"offset":0.486,"color":"rgba(46,85,214,0)"},
          {"offset":0.49,"color":"#2E55D6"},{"offset":0.495,"color":"rgba(46,85,214,0)"},{"offset":0.496,"color":"rgba(46,85,214,0)"},
          {"offset":0.50,"color":"#2E55D6"},{"offset":0.505,"color":"rgba(46,85,214,0)"},{"offset":0.506,"color":"rgba(46,85,214,0)"},
          {"offset":0.51,"color":"#2E55D6"},{"offset":0.515,"color":"rgba(46,85,214,0)"},{"offset":0.516,"color":"rgba(46,85,214,0)"},
          {"offset":0.52,"color":"#2E55D6"},{"offset":0.525,"color":"rgba(46,85,214,0)"},{"offset":0.526,"color":"rgba(46,85,214,0)"},
          {"offset":0.53,"color":"#2E55D6"},{"offset":0.535,"color":"rgba(46,85,214,0)"},{"offset":0.536,"color":"rgba(46,85,214,0)"},
          {"offset":0.54,"color":"#2E55D6"},{"offset":0.545,"color":"rgba(46,85,214,0)"},{"offset":0.546,"color":"rgba(46,85,214,0)"},
          {"offset":0.55,"color":"#2E55D6"},{"offset":0.555,"color":"rgba(46,85,214,0)"},{"offset":0.556,"color":"rgba(46,85,214,0)"},
          {"offset":0.56,"color":"#2E55D6"},{"offset":0.565,"color":"rgba(46,85,214,0)"},{"offset":0.566,"color":"rgba(46,85,214,0)"},
          {"offset":0.57,"color":"#2E55D6"},{"offset":0.575,"color":"rgba(46,85,214,0)"},{"offset":0.576,"color":"rgba(46,85,214,0)"},
          {"offset":0.58,"color":"#2E55D6"},{"offset":0.585,"color":"rgba(46,85,214,0)"},{"offset":0.586,"color":"rgba(46,85,214,0)"},
          {"offset":0.59,"color":"#2E55D6"},{"offset":0.595,"color":"rgba(46,85,214,0)"},{"offset":0.596,"color":"rgba(46,85,214,0)"},
          {"offset":0.60,"color":"#2E55D6"},{"offset":0.605,"color":"rgba(46,85,214,0)"},{"offset":0.606,"color":"rgba(46,85,214,0)"},
          {"offset":0.61,"color":"#2E55D6"},{"offset":0.615,"color":"rgba(46,85,214,0)"},{"offset":0.616,"color":"rgba(46,85,214,0)"},
          {"offset":0.62,"color":"#2E55D6"},{"offset":0.625,"color":"rgba(46,85,214,0)"},{"offset":0.626,"color":"rgba(46,85,214,0)"},
          {"offset":0.63,"color":"#2E55D6"},{"offset":0.635,"color":"rgba(46,85,214,0)"},{"offset":0.636,"color":"rgba(46,85,214,0)"},
          {"offset":0.64,"color":"#2E55D6"},{"offset":0.645,"color":"rgba(46,85,214,0)"},{"offset":0.646,"color":"rgba(46,85,214,0)"},
          {"offset":0.65,"color":"#2E55D6"},{"offset":0.655,"color":"rgba(46,85,214,0)"},{"offset":0.656,"color":"rgba(46,85,214,0)"},
          {"offset":0.66,"color":"#2E55D6"},{"offset":0.665,"color":"rgba(46,85,214,0)"},{"offset":0.666,"color":"rgba(46,85,214,0)"},
          {"offset":0.67,"color":"#2E55D6"},{"offset":0.675,"color":"rgba(46,85,214,0)"},{"offset":0.676,"color":"rgba(46,85,214,0)"},
          {"offset":0.68,"color":"#2E55D6"},{"offset":0.685,"color":"rgba(46,85,214,0)"},{"offset":0.686,"color":"rgba(46,85,214,0)"},
          {"offset":0.69,"color":"#2E55D6"},{"offset":0.695,"color":"rgba(46,85,214,0)"},{"offset":0.696,"color":"rgba(46,85,214,0)"},
          {"offset":0.70,"color":"#2E55D6"},{"offset":0.705,"color":"rgba(46,85,214,0)"},{"offset":0.706,"color":"rgba(46,85,214,0)"},
          {"offset":0.71,"color":"#2E55D6"},{"offset":0.715,"color":"rgba(46,85,214,0)"},{"offset":0.716,"color":"rgba(46,85,214,0)"},
          {"offset":0.72,"color":"#2E55D6"},{"offset":0.725,"color":"rgba(46,85,214,0)"},{"offset":0.726,"color":"rgba(46,85,214,0)"},
          {"offset":0.73,"color":"#2E55D6"},{"offset":0.735,"color":"rgba(46,85,214,0)"},{"offset":0.736,"color":"rgba(46,85,214,0)"},
          {"offset":0.74,"color":"#2E55D6"},{"offset":0.745,"color":"rgba(46,85,214,0)"},{"offset":0.746,"color":"rgba(46,85,214,0)"},
          {"offset":0.75,"color":"#2E55D6"},{"offset":0.755,"color":"rgba(46,85,214,0)"},{"offset":0.756,"color":"rgba(46,85,214,0)"},
          {"offset":0.76,"color":"#2E55D6"},{"offset":0.765,"color":"rgba(46,85,214,0)"},{"offset":0.766,"color":"rgba(46,85,214,0)"},
          {"offset":0.77,"color":"#2E55D6"},{"offset":0.775,"color":"rgba(46,85,214,0)"},{"offset":0.776,"color":"rgba(46,85,214,0)"},
          {"offset":0.78,"color":"#2E55D6"},{"offset":0.785,"color":"rgba(46,85,214,0)"},{"offset":0.786,"color":"rgba(46,85,214,0)"},
          {"offset":0.79,"color":"#2E55D6"},{"offset":0.795,"color":"rgba(46,85,214,0)"},{"offset":0.796,"color":"rgba(46,85,214,0)"},
          {"offset":0.80,"color":"#2E55D6"},{"offset":0.805,"color":"rgba(46,85,214,0)"},{"offset":0.806,"color":"rgba(46,85,214,0)"},
          {"offset":0.81,"color":"#2E55D6"},{"offset":0.815,"color":"rgba(46,85,214,0)"},{"offset":0.816,"color":"rgba(46,85,214,0)"},
          {"offset":0.82,"color":"#2E55D6"},{"offset":0.825,"color":"rgba(46,85,214,0)"},{"offset":0.826,"color":"rgba(46,85,214,0)"},
          {"offset":0.83,"color":"#2E55D6"},{"offset":0.835,"color":"rgba(46,85,214,0)"},{"offset":0.836,"color":"rgba(46,85,214,0)"},
          {"offset":0.84,"color":"#2E55D6"},{"offset":0.845,"color":"rgba(46,85,214,0)"},{"offset":0.846,"color":"rgba(46,85,214,0)"},
          {"offset":0.85,"color":"#2E55D6"},{"offset":0.855,"color":"rgba(46,85,214,0)"},{"offset":0.856,"color":"rgba(46,85,214,0)"},
          {"offset":0.86,"color":"#2E55D6"},{"offset":0.865,"color":"rgba(46,85,214,0)"},{"offset":0.866,"color":"rgba(46,85,214,0)"},
          {"offset":0.87,"color":"#2E55D6"},{"offset":0.875,"color":"rgba(46,85,214,0)"},{"offset":0.876,"color":"rgba(46,85,214,0)"},
          {"offset":0.88,"color":"#2E55D6"},{"offset":0.885,"color":"rgba(46,85,214,0)"},{"offset":0.886,"color":"rgba(46,85,214,0)"},
          {"offset":0.89,"color":"#2E55D6"},{"offset":0.895,"color":"rgba(46,85,214,0)"},{"offset":0.896,"color":"rgba(46,85,214,0)"},
          {"offset":0.90,"color":"#2E55D6"},{"offset":0.905,"color":"rgba(46,85,214,0)"},{"offset":0.906,"color":"rgba(46,85,214,0)"},
          {"offset":0.91,"color":"#2E55D6"},{"offset":0.915,"color":"rgba(46,85,214,0)"},{"offset":0.916,"color":"rgba(46,85,214,0)"},
          {"offset":0.92,"color":"#2E55D6"},{"offset":0.925,"color":"rgba(46,85,214,0)"},{"offset":0.926,"color":"rgba(46,85,214,0)"},
          {"offset":0.93,"color":"#2E55D6"},{"offset":0.935,"color":"rgba(46,85,214,0)"},{"offset":0.936,"color":"rgba(46,85,214,0)"},
          {"offset":0.94,"color":"#2E55D6"},{"offset":0.945,"color":"rgba(46,85,214,0)"},{"offset":0.946,"color":"rgba(46,85,214,0)"},
          {"offset":0.95,"color":"#2E55D6"},{"offset":0.955,"color":"rgba(46,85,214,0)"},{"offset":0.956,"color":"rgba(46,85,214,0)"},
          {"offset":0.96,"color":"#2E55D6"},{"offset":0.965,"color":"rgba(46,85,214,0)"},{"offset":0.966,"color":"rgba(46,85,214,0)"},
          {"offset":0.97,"color":"#2E55D6"},{"offset":0.975,"color":"rgba(46,85,214,0)"},{"offset":0.976,"color":"rgba(46,85,214,0)"},
          {"offset":0.98,"color":"#2E55D6"},{"offset":0.985,"color":"rgba(46,85,214,0)"},{"offset":0.986,"color":"rgba(46,85,214,0)"},
          {"offset":0.99,"color":"#2E55D6"},{"offset":0.995,"color":"rgba(46,85,214,0)"},{"offset":0.996,"color":"rgba(46,85,214,0)"},
          {"offset":1,"color":"#2E55D6"}
        ]}},
      "encoding": {
        "y": {"field": "k1", "type": "quantitative", "scale": {"domain": [0, 400], "nice": false},
          "axis": {"values": [0,50,100,150,200,250,300,350,400], "grid": true, "gridDash": [3, 2], "gridColor": "#222", "gridWidth": 0.8, "ticks": false, "labelPadding": 10, "labelFontSize": 9.5, "labelOverlap": false,
            "title": "Million GT", "titleAngle": 0, "titleX": -26, "titleY": -12, "titleAlign": "left", "titleBaseline": "alphabetic", "titleFontWeight": "normal", "titleFontSize": 9.5, "titleColor": "#222", "titleFont": "Liberation Sans"}},
        "y2": {"field": "k0"}
      }
    },
    {
      "data": {"name": "totals"},
      "mark": {"type": "text", "fontSize": 7, "dy": -9, "font": "Liberation Sans", "color": "#222"},
      "encoding": {
        "text": {"field": "v", "type": "quantitative", "format": ".1f"}
      }
    },
    {
      "data": {"values": [
        {"year": 2007.13, "year2": 2009.1, "v": 87, "v2": 104.3},
        {"year": 2007.24, "year2": 2008.88, "v": 18.5, "v2": 35.3}
      ]},
      "mark": {"type": "rect", "fill": "#fff"},
      "encoding": {
        "x2": {"field": "year2"},
        "y2": {"field": "v2"}
      }
    },
    {
      "data": {"values": [{"year": 2001.3, "v": 377.9, "label": "World total figures are indicated."}]},
      "mark": {"type": "text", "fontSize": 8, "font": "Liberation Sans", "color": "#111", "baseline": "middle"},
      "encoding": {
        "text": {"field": "label"}
      }
    },
    {
      "data": {"values": [
        {"year": 2008.06, "v": 234, "label": "China"},
        {"year": 2008.1, "v": 95.6, "label": "S. Korea"},
        {"year": 2008.06, "v": 26.9, "label": "Japan"}
      ]},
      "mark": {"type": "text", "fontSize": 8, "fontWeight": "bold", "font": "Liberation Sans", "color": "#000", "baseline": "middle"},
      "encoding": {
        "text": {"field": "label"}
      }
    },
    {
      "data": {"values": [{"year": 2006.24, "v": 327.3, "label": "Others total"}]},
      "mark": {"type": "text", "fontSize": 7.5, "fontWeight": "bold", "font": "Liberation Sans", "color": "#000", "baseline": "middle", "align": "right"},
      "encoding": {
        "text": {"field": "label"}
      }
    },
    {
      "data": {"values": [{"year": 2006.3, "year2": 2007.05, "v": 325.5, "v2": 317}]},
      "mark": {"type": "rule", "color": "#000", "strokeWidth": 0.8},
      "encoding": {
        "x2": {"field": "year2"},
        "y2": {"field": "v2"}
      }
    },
    {
      "data": {"values": [{"year": 2007.12, "v": 316.2}]},
      "mark": {"type": "point", "shape": "triangle-right", "filled": true, "color": "#000", "size": 14, "angle": 30, "opacity": 1},
      "encoding": {}
    }
  ]
}
